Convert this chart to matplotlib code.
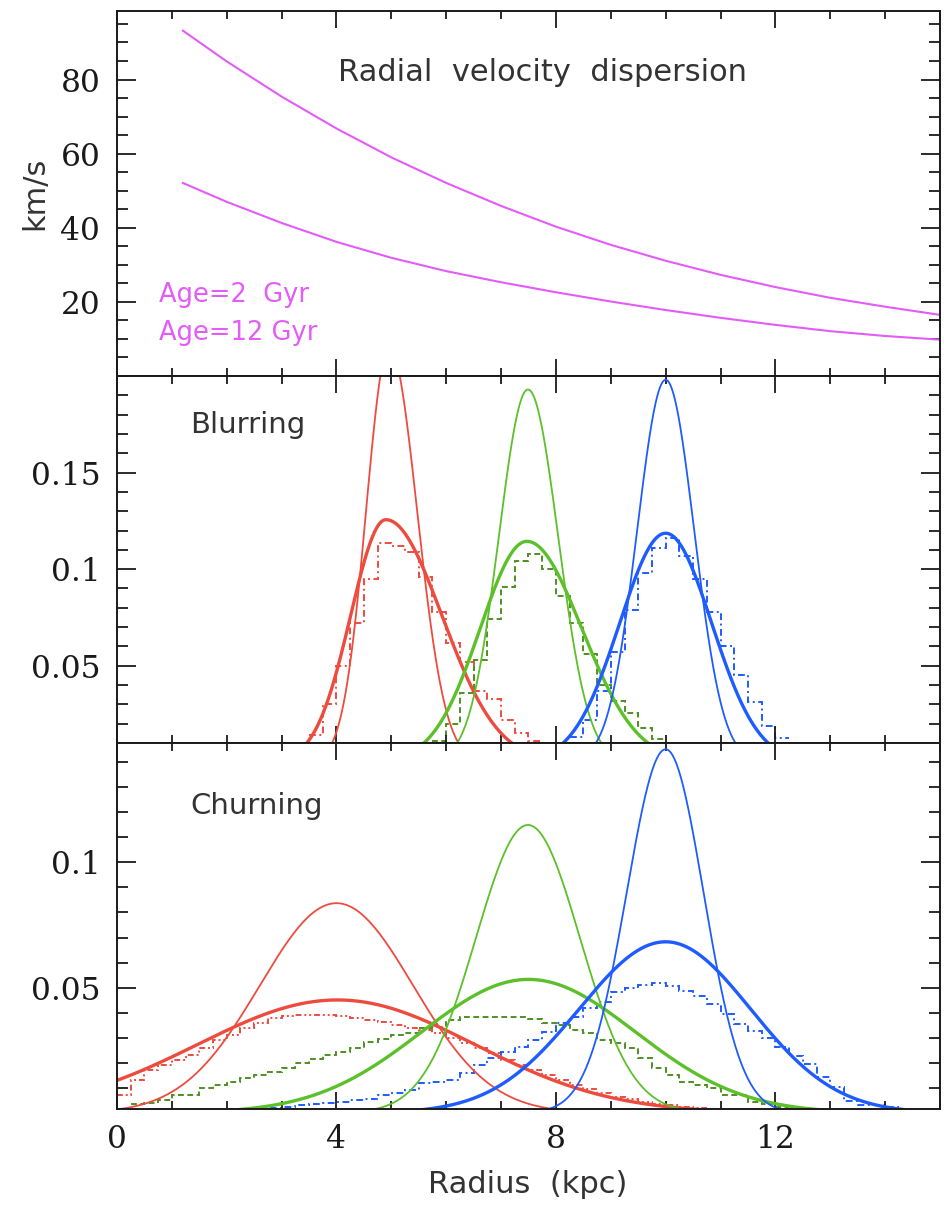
import numpy as np
import matplotlib
matplotlib.use("Agg")
import matplotlib.pyplot as plt
from matplotlib.ticker import MultipleLocator, FixedLocator, FuncFormatter

plt.rcParams['font.family'] = ['DejaVu Sans']

# ---------------- data ----------------
# Top panel: radial velocity dispersion (km/s) vs radius (kpc)
disp_radius = [1.2, 2, 3, 4, 5, 6, 7, 8, 9, 10, 11, 12, 13, 14, 15]
disp_old = [93.2, 84.9, 75.4, 66.8, 59.0, 52.1, 45.9, 40.3, 35.4, 31.1, 27.3, 24.0, 21.1, 18.7, 16.5]
disp_young = [52.1, 47.0, 41.3, 36.2, 31.9, 28.3, 25.3, 22.6, 20.1, 17.8, 15.7, 13.8, 12.1, 10.8, 9.8]
age_labels = ["Age=2  Gyr", "Age=12 Gyr"]

# Profiles (order: red, green, blue): centre, peak, inner/outer widths (kpc)
blur_thin_center = [4.96, 7.49, 10.0]
blur_thin_peak = [0.215, 0.193, 0.198]
blur_thin_sig_in = [0.42, 0.53, 0.52]
blur_thin_sig_out = [0.51, 0.55, 0.52]
blur_thick_center = [4.90, 7.47, 10.0]
blur_thick_peak = [0.1256, 0.1144, 0.1186]
blur_thick_sig_in = [0.64, 0.85, 0.84]
blur_thick_sig_out = [1.02, 1.00, 0.84]

churn_thin_center = [4.0, 7.49, 10.0]
churn_thin_peak = [0.0837, 0.1149, 0.1451]
churn_thin_sig_in = [1.40, 0.95, 0.71]
churn_thin_sig_out = [1.40, 0.95, 0.69]
churn_thick_center = [4.02, 7.5, 10.0]
churn_thick_peak = [0.0451, 0.0533, 0.0683]
churn_thick_sig_in = [2.55, 1.95, 1.58]
churn_thick_sig_out = [2.50, 1.95, 1.55]

# Histograms (bin width 0.25 kpc), first bin left edge + heights
hist_bin_width = 0.25
blur_hist_red_start = 3.5
blur_hist_red = [0.014, 0.030, 0.050, 0.072, 0.095, 0.1136, 0.112, 0.109, 0.096, 0.078,
                 0.062, 0.052, 0.037, 0.033, 0.022, 0.015, 0.011]
blur_hist_green_start = 5.75
blur_hist_green = [0.011, 0.020, 0.036, 0.053, 0.074, 0.091, 0.104, 0.108, 0.100, 0.086,
                   0.072, 0.056, 0.040, 0.032, 0.0255, 0.018, 0.012]
blur_hist_blue_start = 8.25
blur_hist_blue = [0.013, 0.022, 0.037, 0.057, 0.079, 0.098, 0.111, 0.1162, 0.107, 0.095,
                  0.078, 0.060, 0.045, 0.031, 0.019, 0.0125]

churn_hist_red_start = 0.0
churn_hist_red = [0.007, 0.013, 0.017, 0.019, 0.021, 0.023, 0.026, 0.029, 0.031, 0.034,
                  0.036, 0.038, 0.0385, 0.039, 0.039, 0.039, 0.0385, 0.038, 0.037, 0.0365,
                  0.035, 0.034, 0.033, 0.032, 0.030, 0.028, 0.026, 0.024, 0.021, 0.019,
                  0.017, 0.015, 0.013, 0.011, 0.0095, 0.008, 0.0065, 0.0055, 0.0045, 0.0035,
                  0.003, 0.0025, 0.002]
churn_hist_green_start = 0.25
churn_hist_green = [0.0035, 0.0039, 0.0050, 0.0072, 0.0072, 0.0099, 0.0110, 0.0125, 0.0140, 0.0152,
                    0.0165, 0.0179, 0.0199, 0.0215, 0.0232, 0.0245, 0.0258, 0.0285, 0.0295, 0.0311,
                    0.0320, 0.0338, 0.0345, 0.0370, 0.0382, 0.0382, 0.0382, 0.0382, 0.0382, 0.0375,
                    0.0360, 0.0351, 0.0330, 0.0318, 0.0290, 0.0278, 0.0258, 0.0218, 0.0180, 0.0152,
                    0.0125, 0.0110, 0.0099, 0.0072, 0.0072, 0.0045, 0.0035, 0.0025]
churn_hist_blue_start = 2.5
churn_hist_blue = [0.0018, 0.0020, 0.0025, 0.0030, 0.0035, 0.0039, 0.0045, 0.0050, 0.0056, 0.0072,
                   0.0079, 0.0092, 0.0119, 0.0125, 0.0132, 0.0159, 0.0192, 0.0218, 0.0244, 0.0265,
                   0.0291, 0.0325, 0.0358, 0.0384, 0.0418, 0.0444, 0.0483, 0.0499, 0.0510, 0.0517,
                   0.0505, 0.0485, 0.0465, 0.0435, 0.0395, 0.0355, 0.0328, 0.0301, 0.0262, 0.0228,
                   0.0195, 0.0142, 0.0102, 0.0049, 0.0032, 0.0030, 0.0025]

panel_titles = ["Radial  velocity  dispersion", "Blurring", "Churning"]
x_label = "Radius  (kpc)"
y_label_top = "km/s"

# ---------------- style ----------------
RED = '#ee4b3f'
GREEN = '#5cc02a'
BLUE = '#1f5cff'
GREEN_H = '#4f8f22'
MAGENTA = '#e35cf7'
TXT = '#1a1a1a'
colors = [RED, GREEN, BLUE]

W, H = 945, 1209
fig = plt.figure(figsize=(W / 100, H / 100), dpi=100)
left = 117 / W
width = (940 - 117) / W
ax1 = fig.add_axes([left, 1 - 376 / H, width, 365 / H])
ax2 = fig.add_axes([left, 1 - 743 / H, width, 367 / H])
ax3 = fig.add_axes([left, 1 - 1109 / H, width, 366 / H])

r = np.linspace(0, 15, 3001)


def profile(c, p, s_in, s_out):
    s = np.where(r < c, s_in, s_out)
    return p * np.exp(-0.5 * ((r - c) / s) ** 2)


def hist_edges(start, vals):
    return start + hist_bin_width * np.arange(len(vals) + 1)


def style_axes(ax, ylim, ymajor, yminor, xlabels):
    ax.set_xlim(0, 15)
    ax.set_ylim(*ylim)
    ax.xaxis.set_major_locator(MultipleLocator(4))
    ax.xaxis.set_minor_locator(MultipleLocator(1))
    ax.yaxis.set_major_locator(FixedLocator(ymajor))
    ax.yaxis.set_minor_locator(MultipleLocator(yminor))
    ax.yaxis.set_major_formatter(FuncFormatter(lambda v, p: '%g' % round(v, 4)))
    ax.xaxis.set_major_formatter(FuncFormatter(lambda v, p: '%g' % v))
    ax.tick_params(which='both', direction='in', top=True, right=True, width=1.3,
                   colors=TXT, labelsize=22.5, labelfontfamily='DejaVu Serif')
    ax.tick_params(axis='x', which='major', length=12, pad=11)
    ax.tick_params(axis='x', which='minor', length=5.5)
    ax.tick_params(axis='y', which='major', length=14, pad=12)
    ax.tick_params(axis='y', which='minor', length=8)
    if not xlabels:
        ax.tick_params(axis='x', labelbottom=False)
    for s in ax.spines.values():
        s.set_linewidth(1.4)
        s.set_color(TXT)


# ---- top panel ----
ax1.plot(disp_radius, disp_old, color=MAGENTA, lw=1.5)
ax1.plot(disp_radius, disp_young, color=MAGENTA, lw=1.5)
style_axes(ax1, (0, 98.5), [20, 40, 60, 80], 5, False)
ax1.text(0.2685, 0.808, panel_titles[0], transform=ax1.transAxes, fontsize=22,
         color='#333333', va='baseline', ha='left')
ax1.text(0.051, 0.2036, age_labels[0], transform=ax1.transAxes, fontsize=18.5,
         color=MAGENTA, va='baseline', ha='left')
ax1.text(0.051, 0.0986, age_labels[1], transform=ax1.transAxes, fontsize=18.5,
         color=MAGENTA, va='baseline', ha='left')
fig.text(35 / W, 1 - 193 / H, y_label_top, rotation=90, fontsize=22, color='#333333',
         ha='center', va='center')

# ---- blurring ----
dash_dot = (0, (3.5, 1.8, 1.0, 1.8))
dashed = (0, (3.0, 1.8))
blur_hists = [(blur_hist_red_start, blur_hist_red, RED, dash_dot),
              (blur_hist_green_start, blur_hist_green, GREEN_H, dashed),
              (blur_hist_blue_start, blur_hist_blue, BLUE, dash_dot)]
for i in range(3):
    ax2.plot(r, profile(blur_thin_center[i], blur_thin_peak[i], blur_thin_sig_in[i],
                        blur_thin_sig_out[i]), color=colors[i], lw=1.3)
    ax2.plot(r, profile(blur_thick_center[i], blur_thick_peak[i], blur_thick_sig_in[i],
                        blur_thick_sig_out[i]), color=colors[i], lw=2.4)
    st, vals, col, ls = blur_hists[i]
    ax2.stairs(vals, hist_edges(st, vals), color=col, lw=1.4, linestyle=ls, baseline=None)
style_axes(ax2, (0.01, 0.2), [0.05, 0.1, 0.15], 0.01, False)
ax2.text(0.0887, 0.845, panel_titles[1], transform=ax2.transAxes, fontsize=21,
         color='#333333', va='baseline', ha='left')

# ---- churning ----
dash_dot3 = (0, (3.0, 1.5, 1.0, 1.5, 1.0, 1.5))
churn_hists = [(churn_hist_red_start, churn_hist_red, RED, dash_dot3),
               (churn_hist_green_start, churn_hist_green, GREEN_H, dashed),
               (churn_hist_blue_start, churn_hist_blue, BLUE, dash_dot)]
for i in range(3):
    ax3.plot(r, profile(churn_thin_center[i], churn_thin_peak[i], churn_thin_sig_in[i],
                        churn_thin_sig_out[i]), color=colors[i], lw=1.3)
    ax3.plot(r, profile(churn_thick_center[i], churn_thick_peak[i], churn_thick_sig_in[i],
                        churn_thick_sig_out[i]), color=colors[i], lw=2.4)
    st, vals, col, ls = churn_hists[i]
    ax3.stairs(vals, hist_edges(st, vals), color=col, lw=1.4, linestyle=ls, baseline=None)
style_axes(ax3, (0.0016, 0.1476), [0.05, 0.1], 0.01, True)
ax3.text(0.0887, 0.806, panel_titles[2], transform=ax3.transAxes, fontsize=21,
         color='#333333', va='baseline', ha='left')
fig.text(528 / W, 1 - 1193 / H, x_label, fontsize=22, color='#333333',
         ha='center', va='baseline')

fig.savefig('out.png', dpi=100)
